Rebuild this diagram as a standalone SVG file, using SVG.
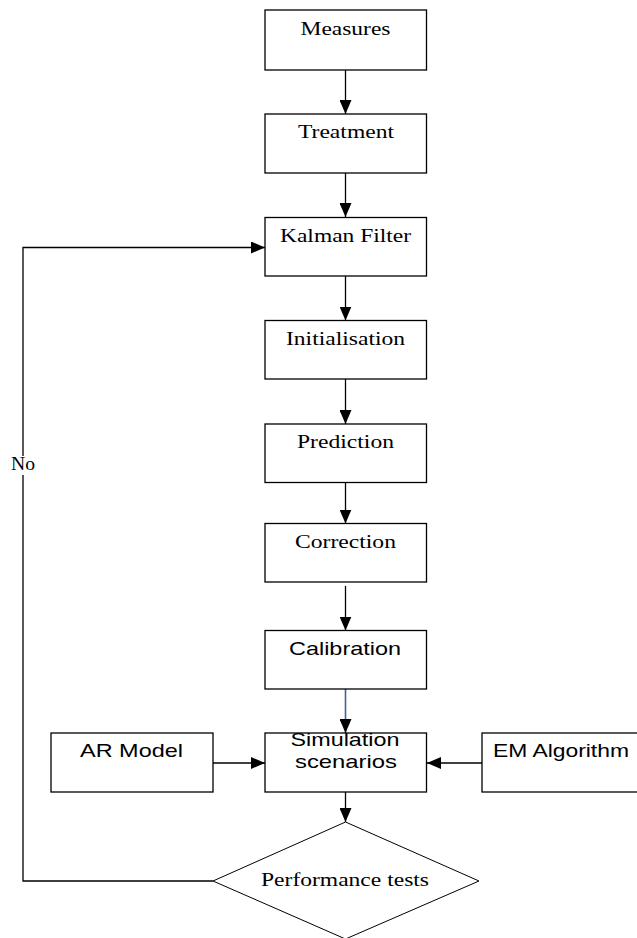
<svg xmlns="http://www.w3.org/2000/svg" width="637" height="938" viewBox="0 0 637 938">
  <style>
    .box { fill: #ffffff; stroke: #000000; stroke-width: 1.3; }
    .edge { fill: none; stroke: #000000; stroke-width: 1.3; }
    .blue { stroke: #44639a; stroke-width: 1.6; }
    .serif { font-family: "Liberation Serif", "Times New Roman", serif; font-size: 18px; fill: #000000; text-anchor: middle; }
    .sans { font-family: "Liberation Sans", Arial, sans-serif; font-size: 19px; fill: #000000; text-anchor: middle; }
  </style>
  <defs>
    <marker id="arrow" viewBox="0 0 14 12" refX="14" refY="6" markerWidth="14" markerHeight="12" markerUnits="userSpaceOnUse" orient="auto">
      <path d="M0,0 L14,6 L0,12 Z" fill="#000000"/>
    </marker>
  </defs>

  <rect width="637" height="938" fill="#ffffff"/>

  <g id="connectors">
    <line class="edge" x1="345.5" y1="70" x2="345.5" y2="114" marker-end="url(#arrow)"/>
    <line class="edge" x1="345.5" y1="173" x2="345.5" y2="217" marker-end="url(#arrow)"/>
    <line class="edge" x1="345.5" y1="276" x2="345.5" y2="320.5" marker-end="url(#arrow)"/>
    <line class="edge" x1="345.5" y1="379" x2="345.5" y2="424" marker-end="url(#arrow)"/>
    <line class="edge" x1="345.5" y1="482.5" x2="345.5" y2="523.5" marker-end="url(#arrow)"/>
    <line class="edge" x1="345.5" y1="586" x2="345.5" y2="630.5" marker-end="url(#arrow)"/>
    <line class="edge blue" x1="345.5" y1="689" x2="345.5" y2="733" marker-end="url(#arrow)"/>
    <line class="edge" x1="345.5" y1="792" x2="345.5" y2="822" marker-end="url(#arrow)"/>
    <line class="edge" x1="213" y1="763" x2="265" y2="763" marker-end="url(#arrow)"/>
    <line class="edge" x1="482" y1="763" x2="427" y2="763" marker-end="url(#arrow)"/>
    <polyline class="edge" points="213,881 23,881 23,247.5 265,247.5" marker-end="url(#arrow)"/>
    <rect x="9" y="456" width="28" height="19" fill="#ffffff"/>
    <text class="serif" x="23" y="470" textLength="24" lengthAdjust="spacingAndGlyphs">No</text>
  </g>

  <g id="measures">
    <rect class="box" x="265" y="10" width="161.5" height="60"/>
    <text class="serif" x="345.5" y="35" textLength="90" lengthAdjust="spacingAndGlyphs">Measures</text>
  </g>
  <g id="treatment">
    <rect class="box" x="265" y="114" width="161.5" height="59"/>
    <text class="serif" x="346" y="138" textLength="96" lengthAdjust="spacingAndGlyphs">Treatment</text>
  </g>
  <g id="kalman-filter">
    <rect class="box" x="265" y="217.5" width="161.5" height="58.5"/>
    <text class="serif" x="345.5" y="242" textLength="131" lengthAdjust="spacingAndGlyphs">Kalman Filter</text>
  </g>
  <g id="initialisation">
    <rect class="box" x="265" y="320.5" width="161.5" height="58.5"/>
    <text class="serif" x="345.5" y="345" textLength="119" lengthAdjust="spacingAndGlyphs">Initialisation</text>
  </g>
  <g id="prediction">
    <rect class="box" x="265" y="424" width="161.5" height="58.5"/>
    <text class="serif" x="345.5" y="448" textLength="97" lengthAdjust="spacingAndGlyphs">Prediction</text>
  </g>
  <g id="correction">
    <rect class="box" x="265" y="523.5" width="161.5" height="58.5"/>
    <text class="serif" x="345.5" y="548" textLength="101" lengthAdjust="spacingAndGlyphs">Correction</text>
  </g>
  <g id="calibration">
    <rect class="box" x="265" y="630.5" width="161.5" height="58.5"/>
    <text class="sans" x="345" y="655" textLength="112" lengthAdjust="spacingAndGlyphs">Calibration</text>
  </g>
  <g id="simulation-scenarios">
    <rect class="box" x="265" y="733" width="161.5" height="59"/>
    <text class="sans" x="345" y="746" textLength="109" lengthAdjust="spacingAndGlyphs">Simulation</text>
    <text class="sans" x="346" y="768" textLength="102" lengthAdjust="spacingAndGlyphs">scenarios</text>
  </g>
  <g id="ar-model">
    <rect class="box" x="51" y="733" width="162" height="59"/>
    <text class="sans" x="131.5" y="757" textLength="103" lengthAdjust="spacingAndGlyphs">AR Model</text>
  </g>
  <g id="em-algorithm">
    <rect class="box" x="482" y="733" width="162" height="59"/>
    <text class="sans" x="561" y="757" textLength="136" lengthAdjust="spacingAndGlyphs">EM Algorithm</text>
  </g>
  <g id="performance-tests">
    <polygon class="box" points="345.5,822 479,881 345.5,939 213,881" style="stroke-width:1"/>
    <text class="serif" x="345" y="886" textLength="168" lengthAdjust="spacingAndGlyphs">Performance tests</text>
  </g>
</svg>
